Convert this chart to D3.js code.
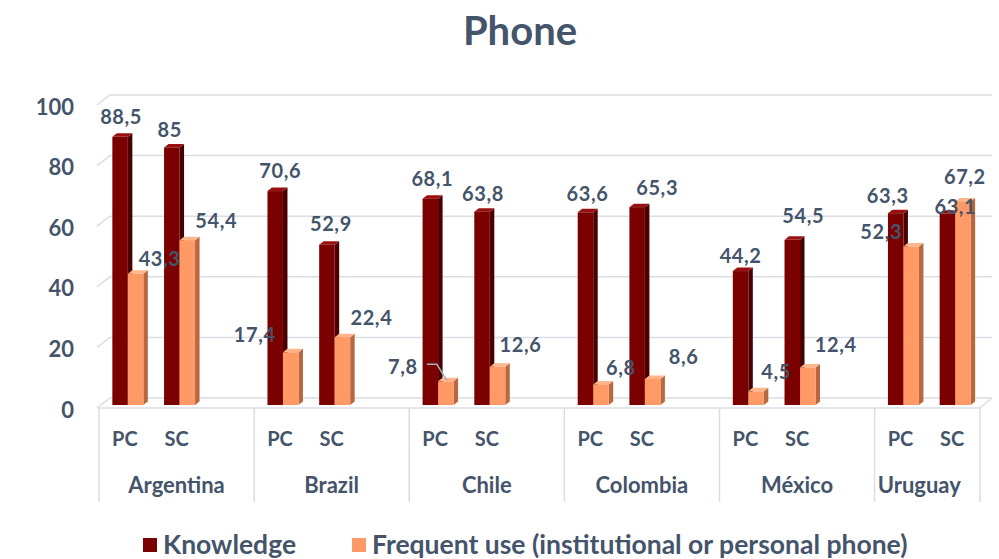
<!DOCTYPE html>
<html><head><meta charset="utf-8">
<script src="https://cdn.jsdelivr.net/npm/d3@7"></script>
<style>
body{margin:0;background:#fff;}
text{font-family:Lato,"Open Sans",sans-serif;font-weight:700;fill:#44546a;}
</style></head>
<body><svg id="c" width="999" height="559"></svg>
<script>
// ---- data ----
const title = "Phone";
const countries = ["Argentina","Brazil","Chile","Colombia","México","Uruguay"];
const levels = ["PC","SC"];
const knowledge   = [88.5, 85, 70.6, 52.9, 68.1, 63.8, 63.6, 65.3, 44.2, 54.5, 63.3, 63.1];
const frequentUse = [43.3, 54.4, 17.4, 22.4, 7.8, 12.6, 6.8, 8.6, 4.5, 12.4, 52.3, 67.2];
const yTicks = [0, 20, 40, 60, 80, 100];
const seriesNames = ["Knowledge", "Frequent use (institutional or personal phone)"];

// ---- layout (label nudges in px) ----
const knowNudge = [[1,-20],[-2,-17.5],[5,-20],[4,-20.5],[2,-20],[1,-18],[2,-18],[20,-19],[0,-15],[11,-24],[-8,-17],[8,-7]];
const freqNudge = [[24,-15],[29,-19],[-36,-17],[29,-19],[-43,-14],[23,-22],[20,-16],[31,-22],[20,-19],[28,-22],[-30,-14.5],[2,-24]];

const colors = {
  know:{front:"#7b0000", side:"#4a0000", top:"#9a1010"},
  freq:{front:"#ff9966", side:"#b8683f", top:"#ffb58a"}
};

const svg = d3.select("#c");
// slots: each country has PC, SC and an empty slot (Uruguay only PC, SC)
const slots = [];
countries.forEach((c,i)=>{
  levels.forEach(l=>slots.push(c+"|"+l));
  if(i < countries.length-1) slots.push(c+"|");
});
const x = d3.scaleBand().domain(slots).range([99, 978]).padding(0);
const y = d3.scaleLinear().domain([0,100]).range([405, 102]);

const BW = 15.5, DX = 4.5, DY = 3.5;
const gridColor = "#d9dde4";

// title
svg.append("text").attr("x", 520).attr("y", 31).attr("dy","0.35em")
  .attr("text-anchor","middle").style("font-size","40px").text(title);

// gridlines (back wall) with left floor/wall diagonal
const gridG = svg.append("g");
yTicks.forEach(v=>{
  const yy = y(v);
  const pts = [[97, yy+3],[110, yy-7],[992, yy-7]];
  gridG.append("polyline").attr("points", pts.map(p=>p.join(",")).join(" "))
    .attr("fill","none").attr("stroke",gridColor).attr("stroke-width",1.5);
});
// front floor edge
gridG.append("line").attr("x1",98).attr("x2",980).attr("y1",y(0)+3).attr("y2",y(0)+3)
  .attr("stroke",gridColor).attr("stroke-width",1.5);
gridG.append("line").attr("x1",980).attr("x2",992).attr("y1",y(0)+3).attr("y2",y(0)-7)
  .attr("stroke",gridColor).attr("stroke-width",1.5);

// y axis
const yAxis = svg.append("g").attr("transform","translate(74,5)")
  .call(d3.axisLeft(y).tickValues(yTicks).tickSize(0).tickPadding(0));
yAxis.select(".domain").remove();
yAxis.selectAll("text").style("font-size","22px").style("fill","#44546a")
  .style("font-family","Lato,'Open Sans',sans-serif").style("font-weight","700");

// x axis (PC/SC)
const xAxis = svg.append("g").attr("transform",`translate(0,${y(0)+3})`)
  .call(d3.axisBottom(x).tickSize(0).tickPadding(24).tickFormat(d=>d.split("|")[1]));
xAxis.select(".domain").remove();
xAxis.selectAll("text").style("font-size","20px").style("fill","#44546a")
  .style("font-family","Lato,'Open Sans',sans-serif").style("font-weight","700");

// country separators and labels
const sepTop = y(0)+3, sepBot = 502;
const bounds = countries.map(c=>{
  const ks = slots.filter(s=>s.startsWith(c+"|"));
  return [x(ks[0]), x(ks[ks.length-1]) + x.bandwidth()];
});
const seps = [bounds[0][0], ...bounds.map(b=>b[1])];
seps[seps.length-1] = 980;
seps.forEach(sx=>{
  svg.append("line").attr("x1",sx).attr("x2",sx).attr("y1",sepTop).attr("y2",sepBot)
    .attr("stroke",gridColor).attr("stroke-width",1.5);
});
countries.forEach((c,i)=>{
  const b = bounds[i];
  const cx = i===countries.length-1 ? (b[0]+980)/2 - 8 : (b[0]+b[1])/2;
  svg.append("text").attr("x",cx).attr("y",485).attr("dy","0.35em")
    .attr("text-anchor","middle").style("font-size","22px").text(c);
});

// 3D bars
function bar3d(g, x0, v, col){
  const yt = y(v), yb = y(0);
  g.append("polygon").attr("points",
    [[x0+BW,yt],[x0+BW+DX,yt-DY],[x0+BW+DX,yb-DY],[x0+BW,yb]].map(p=>p.join(",")).join(" "))
    .attr("fill",col.side);
  g.append("polygon").attr("points",
    [[x0,yt],[x0+DX,yt-DY],[x0+BW+DX,yt-DY],[x0+BW,yt]].map(p=>p.join(",")).join(" "))
    .attr("fill",col.top);
  g.append("rect").attr("x",x0).attr("y",yt).attr("width",BW).attr("height",yb-yt)
    .attr("fill",col.front);
}
const barsG = svg.append("g");
const idx = [];
countries.forEach(c=>levels.forEach(l=>idx.push(c+"|"+l)));
idx.forEach((key,i)=>{
  const sc = x(key) + x.bandwidth()/2;
  const x0 = sc - 12.5;
  bar3d(barsG, x0, knowledge[i], colors.know);
  bar3d(barsG, x0+BW, frequentUse[i], colors.freq);
});

// data labels
const fmt = v => String(v).replace(".", ",");
const labG = svg.append("g");
idx.forEach((key,i)=>{
  const sc = x(key) + x.bandwidth()/2;
  const kx = sc - 12.5 + BW/2, fx = sc - 12.5 + BW + BW/2;
  labG.append("text").attr("x",kx+knowNudge[i][0]).attr("y",y(knowledge[i])+knowNudge[i][1])
    .attr("dy","0.35em").attr("text-anchor","middle").style("font-size","20px")
    .style("letter-spacing","0.6px").text(fmt(knowledge[i]));
  labG.append("text").attr("x",fx+freqNudge[i][0]).attr("y",y(frequentUse[i])+freqNudge[i][1])
    .attr("dy","0.35em").attr("text-anchor","middle").style("font-size","20px")
    .style("letter-spacing","0.6px").text(fmt(frequentUse[i]));
  if(key === "Chile|PC"){
    const ax = fx, ay = y(frequentUse[i]);
    labG.append("polyline").attr("points",[[ax-19,ay-17],[ax-9,ay-17],[ax+1,ay-1]].map(p=>p.join(",")).join(" "))
      .attr("fill","none").attr("stroke","#a6adb8").attr("stroke-width",1.5);
  }
});

// legend
const legend = svg.append("g");
[[143,163,colors.know.front],[352,372,colors.freq.front]].forEach((p,i)=>{
  legend.append("rect").attr("x",p[0]).attr("y",538).attr("width",14).attr("height",14).attr("fill",p[2]);
  legend.append("text").attr("x",p[1]).attr("y",545).attr("dy","0.35em")
    .style("font-size","26.5px").text(seriesNames[i]);
});
</script></body></html>
